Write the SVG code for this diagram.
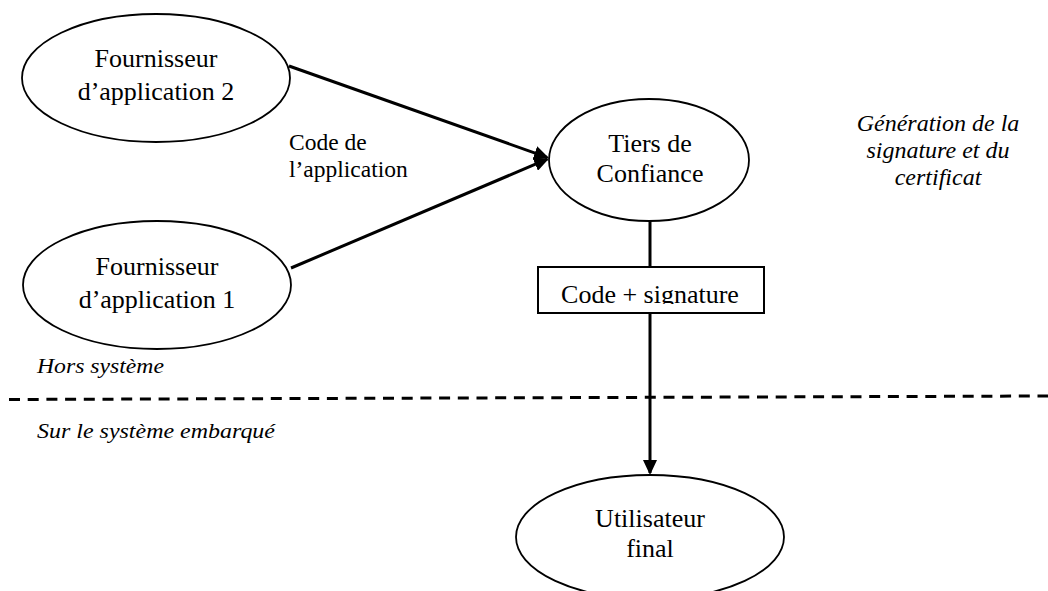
<svg xmlns="http://www.w3.org/2000/svg" width="1048" height="591" viewBox="0 0 1048 591">
  <style>
    .node { fill: #ffffff; stroke: #000000; stroke-width: 1.8; }
    .box { fill: #ffffff; stroke: #000000; stroke-width: 2; }
    .edge { fill: none; stroke: #000000; stroke-width: 3; }
    .sep { fill: none; stroke: #000000; stroke-width: 3; stroke-dasharray: 11 7.7; }
    text { font-family: 'Liberation Serif', Tinos, 'DejaVu Serif', serif; fill: #000000; }
    .lbl { font-size: 26px; text-anchor: middle; }
    .small { font-size: 23.5px; }
    .note { font-style: italic; font-size: 24px; text-anchor: middle; }
    .zone { font-style: italic; font-size: 22px; }
  </style>
  <defs>
    <marker id="arrow" markerUnits="userSpaceOnUse" markerWidth="16" markerHeight="14" refX="13" refY="7" orient="auto">
      <path d="M0,0 L15,7 L0,14 z" fill="#000000"/>
    </marker>
    <clipPath id="boxclip">
      <rect x="538" y="267" width="226" height="37"/>
    </clipPath>
  </defs>

  <rect x="0" y="0" width="1048" height="591" fill="#ffffff"/>

  <!-- boundary between the outside world and the embedded system -->
  <line class="sep" x1="9" y1="399.5" x2="1048" y2="396"/>
  <text class="zone" x="37" y="373" textLength="127" lengthAdjust="spacingAndGlyphs">Hors système</text>
  <text class="zone" x="37" y="438" textLength="238" lengthAdjust="spacingAndGlyphs">Sur le système embarqué</text>

  <!-- connectors -->
  <g id="connectors">
    <line class="edge" x1="289" y1="66" x2="547.1" y2="157.3" marker-end="url(#arrow)"/>
    <line class="edge" x1="291" y1="268" x2="547.2" y2="159.2" marker-end="url(#arrow)"/>
    <line class="edge" x1="650" y1="219" x2="650" y2="473" marker-end="url(#arrow)"/>
    <text class="small" x="289" y="150">Code de</text>
    <text class="small" x="289" y="177">l’application</text>
  </g>

  <g id="fournisseur2">
    <ellipse class="node" cx="156" cy="78" rx="134" ry="64"/>
    <text class="lbl" x="156" y="67">Fournisseur</text>
    <text class="lbl" x="156" y="100">d’application 2</text>
  </g>

  <g id="fournisseur1">
    <ellipse class="node" cx="157" cy="285" rx="134" ry="64"/>
    <text class="lbl" x="157" y="275">Fournisseur</text>
    <text class="lbl" x="157" y="308">d’application 1</text>
  </g>

  <g id="tiers">
    <ellipse class="node" cx="649" cy="160" rx="100" ry="61"/>
    <text class="lbl" x="650" y="152">Tiers de</text>
    <text class="lbl" x="650" y="182">Confiance</text>
  </g>

  <g id="code-signature">
    <rect class="box" x="538" y="267" width="226" height="46"/>
    <text class="lbl" x="650" y="303" clip-path="url(#boxclip)">Code + signature</text>
  </g>

  <g id="utilisateur">
    <ellipse class="node" cx="650" cy="537" rx="134" ry="62"/>
    <text class="lbl" x="650" y="527">Utilisateur</text>
    <text class="lbl" x="650" y="557">final</text>
  </g>

  <g id="generation-note">
    <text class="note" x="938" y="131">Génération de la</text>
    <text class="note" x="938" y="158">signature et du</text>
    <text class="note" x="938" y="185">certificat</text>
  </g>
</svg>
